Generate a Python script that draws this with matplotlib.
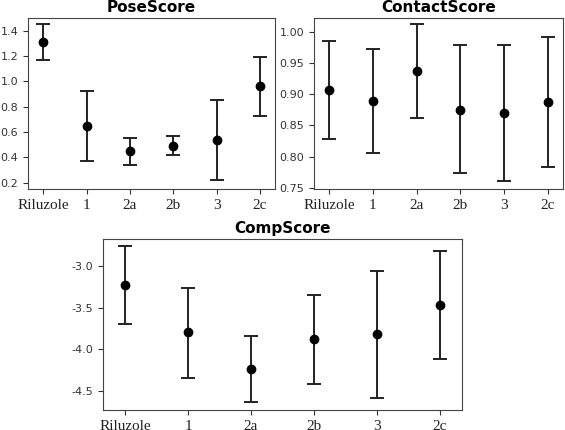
import matplotlib
matplotlib.use("Agg")
import matplotlib.pyplot as plt
import numpy as np

plt.rcParams["axes.unicode_minus"] = False

labels = ["Riluzole", "1", "2a", "2b", "3", "2c"]

pose_mean = [1.31, 0.65, 0.45, 0.49, 0.535, 0.96]
pose_low = [1.165, 0.37, 0.34, 0.415, 0.225, 0.73]
pose_high = [1.455, 0.925, 0.55, 0.57, 0.85, 1.195]

contact_mean = [0.906, 0.889, 0.937, 0.875, 0.870, 0.887]
contact_low = [0.828, 0.805, 0.862, 0.773, 0.761, 0.784]
contact_high = [0.985, 0.973, 1.012, 0.978, 0.979, 0.991]

comp_mean = [-3.22, -3.79, -4.24, -3.88, -3.81, -3.47]
comp_low = [-3.69, -4.34, -4.63, -4.42, -4.58, -4.12]
comp_high = [-2.75, -3.26, -3.84, -3.34, -3.05, -2.82]

W, H = 565, 430
fig = plt.figure(figsize=(W / 100, H / 100), dpi=100)


def panel(rect, title, mean, low, high, yticks, ylim):
    ax = fig.add_axes(rect)
    mean = np.array(mean)
    err = [mean - np.array(low), np.array(high) - mean]
    x = np.arange(len(labels))
    ax.errorbar(x, mean, yerr=err, fmt="o", color="black", ecolor="#222222",
                elinewidth=1.4, capsize=5, capthick=1.4, markersize=6)
    ax.set_title(title, fontsize=11, fontweight="bold", pad=4)
    ax.set_xticks(x)
    ax.set_xticklabels(labels, family="Liberation Serif", fontsize=11)
    ax.set_yticks(yticks)
    ax.set_ylim(*ylim)
    ax.tick_params(axis="y", labelsize=8, colors="#333333", labelcolor="#333333")
    ax.tick_params(axis="x", colors="#333333", labelcolor="#222222")
    ax.set_xlim(-0.35, 5.35)
    for s in ax.spines.values():
        s.set_color("#444444")
    return ax


def r(l, t, rr, b):
    return [l / W, 1 - b / H, (rr - l) / W, (b - t) / H]


panel(r(28, 18, 275, 189), "PoseScore", pose_mean, pose_low, pose_high,
      [0.2, 0.4, 0.6, 0.8, 1.0, 1.2, 1.4], (0.15, 1.50))
ax = panel(r(314, 18, 563, 189), "ContactScore", contact_mean, contact_low, contact_high,
           [0.75, 0.80, 0.85, 0.90, 0.95, 1.00], (0.748, 1.022))
ax.yaxis.set_major_formatter(matplotlib.ticker.FormatStrFormatter("%.2f"))
panel(r(103, 239, 462, 410), "CompScore", comp_mean, comp_low, comp_high,
      [-4.5, -4.0, -3.5, -3.0], (-4.73, -2.67))

fig.savefig("out.png", dpi=100)
